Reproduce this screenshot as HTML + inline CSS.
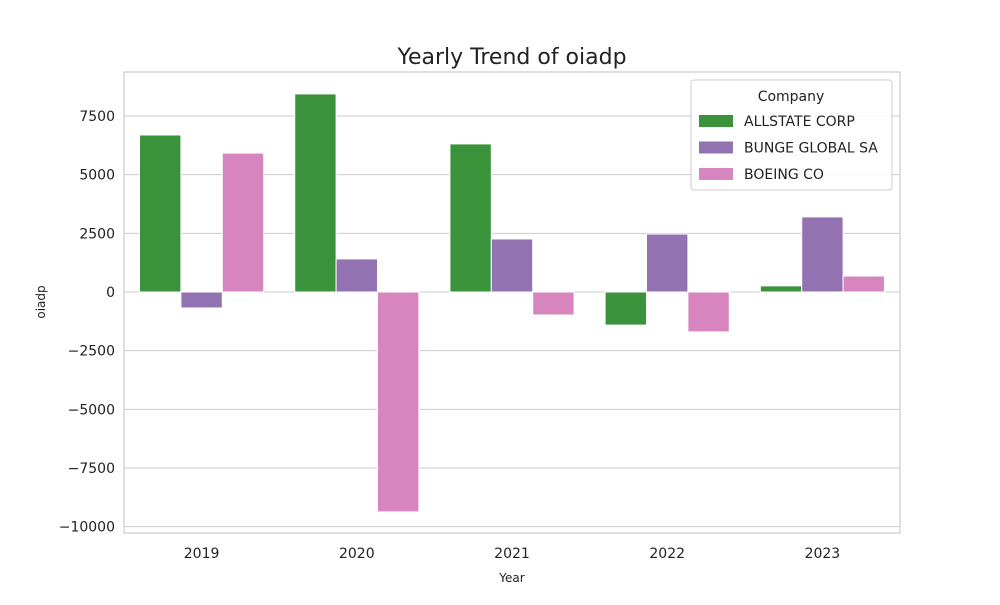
<!DOCTYPE html>
<html><head><meta charset="utf-8"><style>
body{margin:0;background:#fff;}
svg text{font-family:"DejaVu Sans","Liberation Sans",sans-serif;fill:#222;}
</style></head><body>
<svg id="c" width="1000" height="600"></svg>
<script>
const years=["2019","2020","2021","2022","2023"];
const companies=["ALLSTATE CORP","BUNGE GLOBAL SA","BOEING CO"];
const allstate=[6690,8440,6310,-1410,260];
const bunge=[-680,1410,2260,2470,3200];
const boeing=[5920,-9370,-980,-1700,680];
const yTicks=[-10000,-7500,-5000,-2500,0,2500,5000,7500];
const yTickLabels=["\u221210000","\u22127500","\u22125000","\u22122500","0","2500","5000","7500"];
const colors=["#3a923a","#9372b2","#d685be"];
const series=[allstate,bunge,boeing];
const L=124,R=900,T=72,B=533;
const y=v=>292-v*0.023467;
const bw=(R-L)/years.length;
const x=i=>L+bw*i;
const NS="http://www.w3.org/2000/svg";
const svg=document.getElementById('c');
function mk(t,a,txt){const e=document.createElementNS(NS,t);for(const k in a)e.setAttribute(k,a[k]);if(txt!=null)e.textContent=txt;svg.appendChild(e);return e;}
let e;
e=mk('rect',{x:L,y:T,width:R-L,height:B-T,fill:'#fff',stroke:'#ccc','stroke-width':1.2});

yTicks.forEach((t,i)=>{
 e=mk('line',{x1:L,x2:R,y1:y(t),y2:y(t),stroke:'#ccc','stroke-width':1});
 
 e=mk('text',{x:L-9,y:y(t)+5,'text-anchor':'end','font-size':14},yTickLabels[i]);
 
});
const gw=bw*0.8,bwid=gw/3;
series.forEach((s,si)=>{s.forEach((v,i)=>{
 const x0=x(i)+bw*0.1+si*bwid;
 e=mk('rect',{x:x0,y:Math.min(y(v),y(0)),width:bwid,height:Math.abs(y(v)-y(0)),fill:colors[si],stroke:'#fff','stroke-width':1});
 
 
});});
years.forEach((yr,i)=>{
 e=mk('text',{x:x(i)+bw/2,y:558,'text-anchor':'middle','font-size':14},yr);
 
});
e=mk('text',{x:512,y:582,'text-anchor':'middle','font-size':12},'Year');

e=mk('text',{x:45,y:302,'text-anchor':'middle','font-size':12,transform:'rotate(-90 45 302)'},'oiadp');

e=mk('text',{x:512,y:64,'text-anchor':'middle','font-size':22},'Yearly Trend of oiadp');

e=mk('rect',{x:691,y:80,width:201,height:110,rx:3,fill:'#fff',stroke:'#ccc','fill-opacity':0.85});

e=mk('text',{x:791,y:101,'text-anchor':'middle','font-size':14},'Company');

companies.forEach((c,i)=>{
 const ly=121+i*26.5;
 e=mk('rect',{x:699,y:ly-6,width:34,height:12,fill:colors[i]});
 
 e=mk('text',{x:744,y:ly+5,'font-size':14},c);
 
});
</script>
</body></html>
